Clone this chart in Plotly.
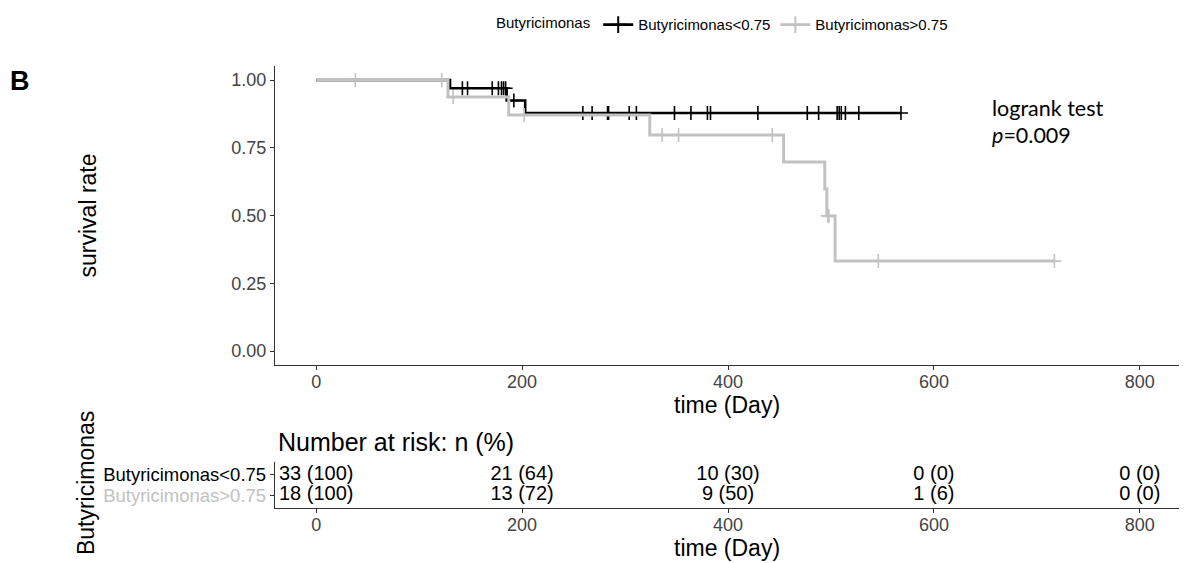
import plotly.graph_objects as go

W, H = 1187, 563
OFF = 8  # page body margin shifts the figure by 8 px

# ---------------- data ----------------
groups = ["Butyricimonas<0.75", "Butyricimonas>0.75"]
colors = ["#000000", "#c2c2c2"]

# Kaplan-Meier step curves: step times (days) and survival after each step
low_times = [0, 130, 185, 203, 568]
low_surv = [1.0, 0.970, 0.925, 0.879, 0.879]
low_censor_t = [142, 147, 171, 177, 180, 182, 184, 192, 259, 268, 283, 284, 304,
                311, 348, 364, 380, 383, 429, 477, 488, 506, 508, 510, 514, 527, 568]
low_censor_s = [0.970] * 7 + [0.925] + [0.879] * 19

high_times = [0, 128, 187, 324, 454, 494, 496, 504, 717]
high_surv = [1.0, 0.9375, 0.871, 0.798, 0.698, 0.598, 0.499, 0.332, 0.332]
high_censor_t = [38, 122, 133, 202, 336, 352, 443, 497, 498, 546, 717]
high_censor_s = [1.0, 1.0, 0.9375, 0.871, 0.798, 0.798, 0.798, 0.499, 0.499, 0.332, 0.332]

risk_times = [0, 200, 400, 600, 800]
risk_low = ["33 (100)", "21 (64)", "10 (30)", "0 (0)", "0 (0)"]
risk_high = ["18 (100)", "13 (72)", "9 (50)", "1 (6)", "0 (0)"]

x_ticks = [0, 200, 400, 600, 800]
y_ticks = [0.0, 0.25, 0.50, 0.75, 1.00]
y_ticklabels = ["0.00", "0.25", "0.50", "0.75", "1.00"]

# ---------------- figure ----------------
def px_(x):
    return (x - OFF) / W

def py(y):
    return 1 - (y - OFF) / H

FONT = "Liberation Sans, Arial, sans-serif"
fig = go.Figure()

curves = [(low_times, low_surv, low_censor_t, low_censor_s, 2.6),
          (high_times, high_surv, high_censor_t, high_censor_s, 3.0)]
for g, c, (t, s, ct, cs, lw) in zip(groups, colors, curves):
    fig.add_trace(go.Scatter(x=t, y=s, mode="lines", line=dict(color=c, width=lw, shape="hv"),
                             showlegend=False, hoverinfo="skip", xaxis="x", yaxis="y"))
    fig.add_trace(go.Scatter(x=ct, y=cs, mode="markers",
                             marker=dict(symbol="cross-thin", size=10, line=dict(color=c, width=1.6)),
                             showlegend=False, hoverinfo="skip", xaxis="x", yaxis="y"))

# legend-only traces
for g, c in zip(groups, colors):
    fig.add_trace(go.Scatter(x=[None], y=[None], mode="lines+markers", name=g,
                             line=dict(color=c, width=2.6),
                             marker=dict(symbol="cross-thin", size=12, line=dict(color=c, width=2)),
                             xaxis="x", yaxis="y"))

# risk table text
for yv, vals in zip([2, 1], [risk_low, risk_high]):
    fig.add_trace(go.Scatter(x=risk_times, y=[yv] * len(risk_times), mode="text", text=vals,
                             textfont=dict(family=FONT, size=20, color="#000000"),
                             showlegend=False, hoverinfo="skip", xaxis="x2", yaxis="y2"))

xdom = [px_(275), px_(1180)]
axis_common = dict(showline=True, linecolor="#333333", linewidth=1.3, ticks="outside",
                   ticklen=4, tickcolor="#333333", showgrid=False, zeroline=False,
                   automargin=False,
                   tickfont=dict(family=FONT, size=18, color="#444444"))

fig.update_layout(
    template="none",
    width=W, height=H,
    margin=dict(l=0, r=0, t=0, b=0, pad=0),
    plot_bgcolor="white", paper_bgcolor="white",
    font=dict(family=FONT, color="#000000"),
    xaxis=dict(domain=xdom, range=[-40, 839], tickvals=x_ticks, anchor="y",
               ticklabelstandoff=-3, **axis_common),
    yaxis=dict(domain=[py(362), py(60)], range=[-0.05, 1.051], tickvals=y_ticks,
               ticktext=y_ticklabels, anchor="x", **axis_common),
    xaxis2=dict(domain=xdom, range=[-40, 839], tickvals=x_ticks, anchor="y2",
                ticklabelstandoff=-4, **axis_common),
    yaxis2=dict(domain=[py(507), py(461)], range=[0.4, 2.6], tickvals=[2, 1],
                ticktext=['<span style="color:#000000">Butyricimonas&lt;0.75</span>',
                          '<span style="color:#c2c2c2">Butyricimonas&gt;0.75</span>'],
                anchor="x2", **axis_common),
    legend=dict(orientation="h", x=px_(494), y=py(18), xanchor="left", yanchor="middle",
                title=dict(text="Butyricimonas", side="left", font=dict(size=15)),
                font=dict(family=FONT, size=15), itemwidth=30, tracegroupgap=0,
                bgcolor="rgba(0,0,0,0)"),
)
fig.update_layout(yaxis2_tickfont=dict(family=FONT, size=18.5))

ann = [
    dict(text="<b>B</b>", x=px_(8), y=py(75), xanchor="left", font=dict(size=27, family=FONT)),
    dict(text="logrank test", x=px_(990), y=py(102), xanchor="left", font=dict(size=21.5, family="Lato, Open Sans, sans-serif")),
    dict(text="<i>p</i>=0.009", x=px_(990), y=py(130), xanchor="left", font=dict(size=21.5, family="Lato, Open Sans, sans-serif")),
    dict(text="survival rate", x=px_(88), y=py(211), textangle=-90, font=dict(size=23, family=FONT)),
    dict(text="time (Day)", x=px_(727), y=py(403), font=dict(size=23, family=FONT)),
    dict(text="Butyricimonas", x=px_(86), y=py(482), textangle=-90, font=dict(size=23, family=FONT)),
    dict(text="Number at risk: n (%)", x=px_(276), y=py(440), xanchor="left", font=dict(size=25, family=FONT)),
    dict(text="time (Day)", x=px_(727), y=py(548), font=dict(size=23, family=FONT)),
]
for a in ann:
    a.update(xref="paper", yref="paper", showarrow=False, yanchor="middle")
    a.setdefault("xanchor", "center")
    fig.add_annotation(**a)

fig.write_html("out.html")
